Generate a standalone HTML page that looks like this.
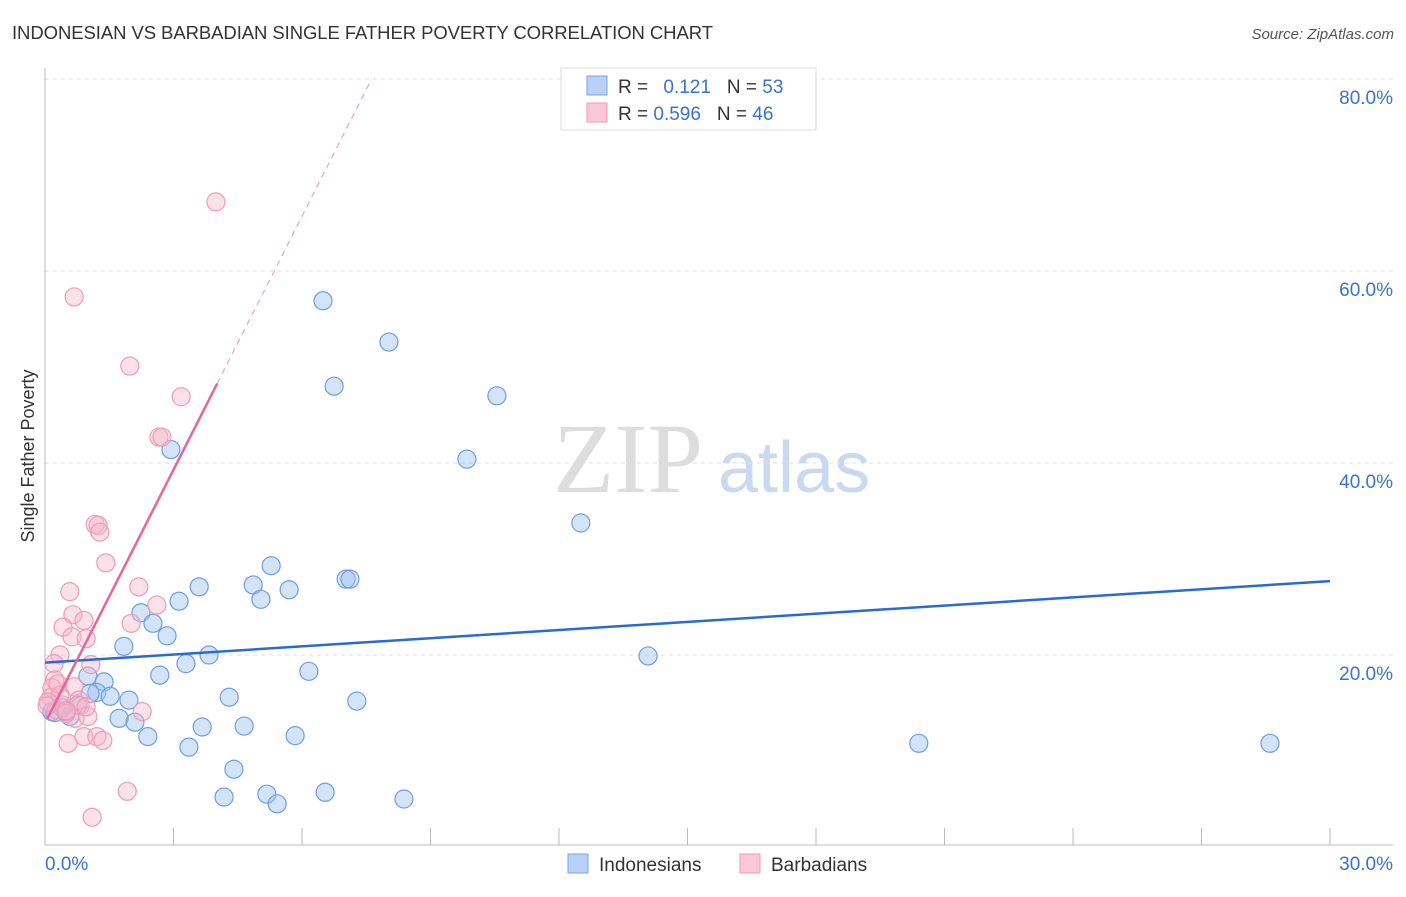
<!DOCTYPE html>
<html><head><meta charset="utf-8"><style>
body{margin:0;background:#fff;font-family:"Liberation Sans",sans-serif}
svg text{font-family:"Liberation Sans",sans-serif}
</style></head><body>
<svg id="c" width="1406" height="892" xmlns="http://www.w3.org/2000/svg">
<text x="12" y="39" font-size="18.5" fill="#333" textLength="701">INDONESIAN VS BARBADIAN SINGLE FATHER POVERTY CORRELATION CHART</text>
<text x="1394" y="39" font-size="15" fill="#555" text-anchor="end" font-style="italic">Source: ZipAtlas.com</text>
<text x="34" y="456" font-size="18" fill="#333" text-anchor="middle" transform="rotate(-90 34 456)">Single Father Poverty</text>
<text x="553" y="492" font-size="100" fill="#ddd" style="font-family:'Liberation Serif',serif">ZIP</text>
<text x="718" y="492" font-size="72" fill="#c9d9ef">atlas</text>
<g id="grid"></g><g id="pts"></g><g id="lines"></g>
<g>
<rect x="561" y="68" width="255" height="62" fill="#fff" stroke="#ddd"/>
<rect x="587" y="76" width="20" height="19" fill="#b8d2f5" stroke="#7aa6e0"/>
<rect x="587" y="103" width="20" height="19" fill="#fbc8d8" stroke="#ef9bb6"/>
<text x="618" y="93" font-size="19" fill="#333">R = <tspan fill="#3a72d0" dx="10">0.121</tspan><tspan dx="16" fill="#333">N = </tspan><tspan fill="#3a72d0">53</tspan></text>
<text x="618" y="120" font-size="19" fill="#333">R = <tspan fill="#3a72d0">0.596</tspan><tspan dx="16" fill="#333">N = </tspan><tspan fill="#3a72d0">46</tspan></text>
</g>
<g>
<rect x="568" y="854" width="20" height="19" fill="#b8d2f5" stroke="#7aa6e0"/>
<text x="599" y="871" font-size="19" fill="#333">Indonesians</text>
<rect x="740" y="854" width="20" height="19" fill="#fbc8d8" stroke="#ef9bb6"/>
<text x="771" y="871" font-size="19" fill="#333">Barbadians</text>
</g>
</svg>
<script>
const xTicks=[0,3,6,9,12,15,18,21,24,27,30];
const yTicks=[20,40,60,80];
const blueX=[6.49,8.03,6.75,10.55,2.94,9.85,12.51,5.28,3.6,4.86,5.7,5.04,7.03,7.12,3.13,2.24,2.52,2.85,1.84,3.83,3.29,14.08,6.16,2.68,1.0,1.38,1.21,1.52,1.05,4.3,1.96,7.28,0.77,0.4,0.16,0.58,1.73,2.1,3.67,4.65,2.4,5.84,3.36,20.4,28.6,4.41,4.18,5.18,6.54,5.42,8.38,0.23,0.49];
const blueY=[56.9,52.6,48.0,47.0,41.4,40.4,33.75,29.3,27.1,27.3,26.8,25.8,27.9,27.9,25.6,24.4,23.3,22.0,20.9,20.0,19.1,19.9,18.3,17.9,17.8,17.2,16.1,15.7,16.0,15.6,15.3,15.2,14.8,14.5,14.1,13.6,13.4,13.0,12.5,12.6,11.5,11.6,10.4,10.8,10.8,8.1,5.2,5.5,5.7,4.5,5.0,14.0,14.1];
const pinkX=[3.99,0.68,1.98,3.18,2.66,2.73,1.17,1.24,1.28,1.42,2.19,0.58,2.61,0.65,0.91,2.01,0.42,0.63,0.96,0.35,1.07,0.21,0.23,0.16,0.14,0.68,0.35,0.79,0.4,0.82,0.26,0.07,0.7,1.0,0.49,2.27,0.54,0.91,1.21,1.35,1.92,1.1,0.96,0.05,0.3,0.5];
const pinkY=[67.2,57.3,50.1,46.9,42.7,42.7,33.6,33.5,32.8,29.6,27.1,26.6,25.2,24.2,23.6,23.3,22.9,21.9,21.7,20.0,19.0,19.1,17.4,16.6,15.6,16.7,15.8,15.3,14.8,14.7,14.3,15.1,13.4,13.6,13.9,14.1,10.8,11.5,11.5,11.1,5.8,3.1,14.6,14.7,17.0,14.2];
const blueTrend=[19.2,27.7];
const pinkTrend=[12.9,8.8];
const sx=v=>45+v*1285/30, sy=v=>847-v*9.6;
const NS='http://www.w3.org/2000/svg';
function mk(t,a,p){const e=document.createElementNS(NS,t);for(const k in a)e.setAttribute(k,a[k]);p.appendChild(e);return e;}
const grid=document.getElementById('grid'),pts=document.getElementById('pts'),lines=document.getElementById('lines');
yTicks.forEach(v=>{
 const l=mk('line',{x1:45,x2:1393,y1:sy(v),y2:sy(v),stroke:'#ddd','stroke-dasharray':'4,4'},grid);
 
 
 const t=mk('text',{x:1393,y:sy(v)+25,'font-size':19,fill:'#3a72d0','text-anchor':'end'},grid);
 t.textContent=v.toFixed(1)+'%';
 
 
});
const ax=mk('line',{x1:45,x2:1393,y1:845,y2:845,stroke:'#bbb'},grid);


const ay=mk('line',{x1:45,x2:45,y1:68,y2:845,stroke:'#bbb'},grid);


xTicks.forEach(v=>{
 const l=mk('line',{x1:sx(v),x2:sx(v),y1:828,y2:845,stroke:'#bbb'},grid);
 
 
});
[[0,45,'start'],[30,1393,'end']].forEach(([v,x,a])=>{
 const t=mk('text',{x:x,y:870,'font-size':19,fill:'#3a72d0','text-anchor':a},grid);
 t.textContent=v.toFixed(1)+'%';
 
 
});
blueX.forEach((x,i)=>{
 const c=mk('circle',{cx:sx(x),cy:sy(blueY[i]),r:9,fill:'rgba(160,195,240,0.45)',stroke:'#6d9ee0','stroke-width':1.2},pts);
 
 
});
pinkX.forEach((x,i)=>{
 const c=mk('circle',{cx:sx(x),cy:sy(pinkY[i]),r:9,fill:'rgba(248,180,200,0.4)',stroke:'#ef9bb6','stroke-width':1.2},pts);
 
 
});
const bl=mk('line',{x1:sx(0),y1:sy(blueTrend[0]),x2:sx(30),y2:sy(blueTrend[1]),stroke:'#2a6ad4','stroke-width':2.5},lines);


const pf=x=>pinkTrend[0]+pinkTrend[1]*x;
const pl=mk('line',{x1:sx(0.05),y1:sy(pf(0.05)),x2:sx(4.02),y2:sy(pf(4.02)),stroke:'#e8659a','stroke-width':2.5},lines);


const xe=(80-pinkTrend[0])/pinkTrend[1];
const pd=mk('line',{x1:sx(4.02),y1:sy(pf(4.02)),x2:sx(xe),y2:sy(80),stroke:'#f0a0bd','stroke-width':1.2,'stroke-dasharray':'6,5'},lines);


</script>
</body></html>
